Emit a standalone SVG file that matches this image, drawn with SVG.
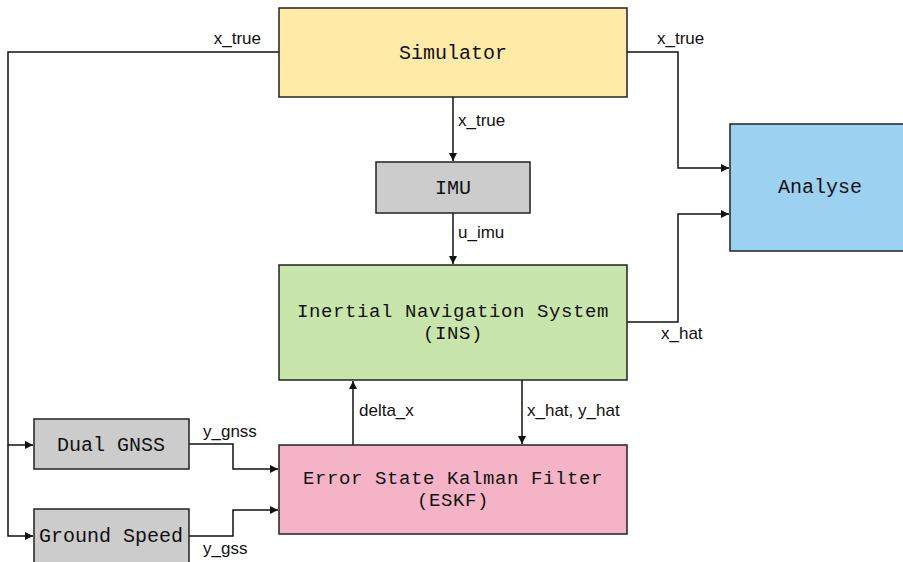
<svg xmlns="http://www.w3.org/2000/svg" width="903" height="562" viewBox="0 0 903 562">
  <style>
    .box { stroke: #222; stroke-width: 1.5; }
    .node-text { font-family: "Liberation Mono", "DejaVu Sans Mono", monospace; font-size: 20px; fill: #111; text-anchor: middle; }
    .two-line { font-size: 19px; letter-spacing: 0.6px; }
    .label { font-family: "Liberation Sans", Arial, sans-serif; font-size: 17px; fill: #111; }
    .wire { fill: none; stroke: #111; stroke-width: 1.5; }
  </style>
  <defs>
    <marker id="arrow" viewBox="0 0 10 10" refX="10" refY="5" markerWidth="10" markerHeight="8" markerUnits="userSpaceOnUse" orient="auto">
      <path d="M0,0 L10,5 L0,10 z" fill="#111"/>
    </marker>
  </defs>
  <rect width="903" height="562" fill="#ffffff"/>

  <g id="connectors">
    <!-- Simulator to sensors -->
    <path class="wire" d="M279,52 H8 V445 H33" marker-end="url(#arrow)"/>
    <path class="wire" d="M8,445 V536 H33" marker-end="url(#arrow)"/>
    <text class="label" x="261" y="44" text-anchor="end">x_true</text>
    <!-- Simulator to Analyse -->
    <path class="wire" d="M627,52 H678 V168 H729" marker-end="url(#arrow)"/>
    <text class="label" x="657" y="44">x_true</text>
    <!-- Simulator to IMU -->
    <path class="wire" d="M453,97 V161" marker-end="url(#arrow)"/>
    <text class="label" x="458" y="126">x_true</text>
    <!-- IMU to INS -->
    <path class="wire" d="M453,213 V264" marker-end="url(#arrow)"/>
    <text class="label" x="458" y="238">u_imu</text>
    <!-- INS to Analyse -->
    <path class="wire" d="M627,322 H678 V214 H729" marker-end="url(#arrow)"/>
    <text class="label" x="661" y="339">x_hat</text>
    <!-- ESKF correction to INS -->
    <path class="wire" d="M353,445 V381" marker-end="url(#arrow)"/>
    <text class="label" x="359" y="416">delta_x</text>
    <!-- INS to ESKF -->
    <path class="wire" d="M522,380 V444" marker-end="url(#arrow)"/>
    <text class="label" x="527" y="416">x_hat, y_hat</text>
    <!-- GNSS to ESKF -->
    <path class="wire" d="M189,444 H233 V469 H278" marker-end="url(#arrow)"/>
    <text class="label" x="203" y="437">y_gnss</text>
    <!-- Ground speed to ESKF -->
    <path class="wire" d="M189,536 H233 V510 H278" marker-end="url(#arrow)"/>
    <text class="label" x="203" y="554">y_gss</text>
  </g>

  <g id="simulator">
    <rect class="box" x="279" y="8" width="348" height="89" fill="#FFEAA8"/>
    <text class="node-text" x="453" y="59">Simulator</text>
  </g>
  <g id="analyse">
    <rect class="box" x="730" y="124" width="180" height="127" fill="#9CD1F2"/>
    <text class="node-text" x="820" y="193">Analyse</text>
  </g>
  <g id="imu">
    <rect class="box" x="376" y="162" width="154" height="51" fill="#CCCCCC"/>
    <text class="node-text" x="453" y="194">IMU</text>
  </g>
  <g id="ins">
    <rect class="box" x="279" y="265" width="348" height="115" fill="#C8E6AB"/>
    <text class="node-text two-line" x="453" y="317">Inertial Navigation System</text>
    <text class="node-text two-line" x="453" y="339">(INS)</text>
  </g>
  <g id="dual-gnss">
    <rect class="box" x="34" y="419" width="155" height="50" fill="#CCCCCC"/>
    <text class="node-text" x="111" y="451">Dual GNSS</text>
  </g>
  <g id="ground-speed">
    <rect class="box" x="34" y="509" width="155" height="60" fill="#CCCCCC"/>
    <text class="node-text" x="111" y="542">Ground Speed</text>
  </g>
  <g id="eskf">
    <rect class="box" x="279" y="445" width="348" height="89" fill="#F4B3C6"/>
    <text class="node-text two-line" x="453" y="484">Error State Kalman Filter</text>
    <text class="node-text two-line" x="453" y="506">(ESKF)</text>
  </g>
</svg>
